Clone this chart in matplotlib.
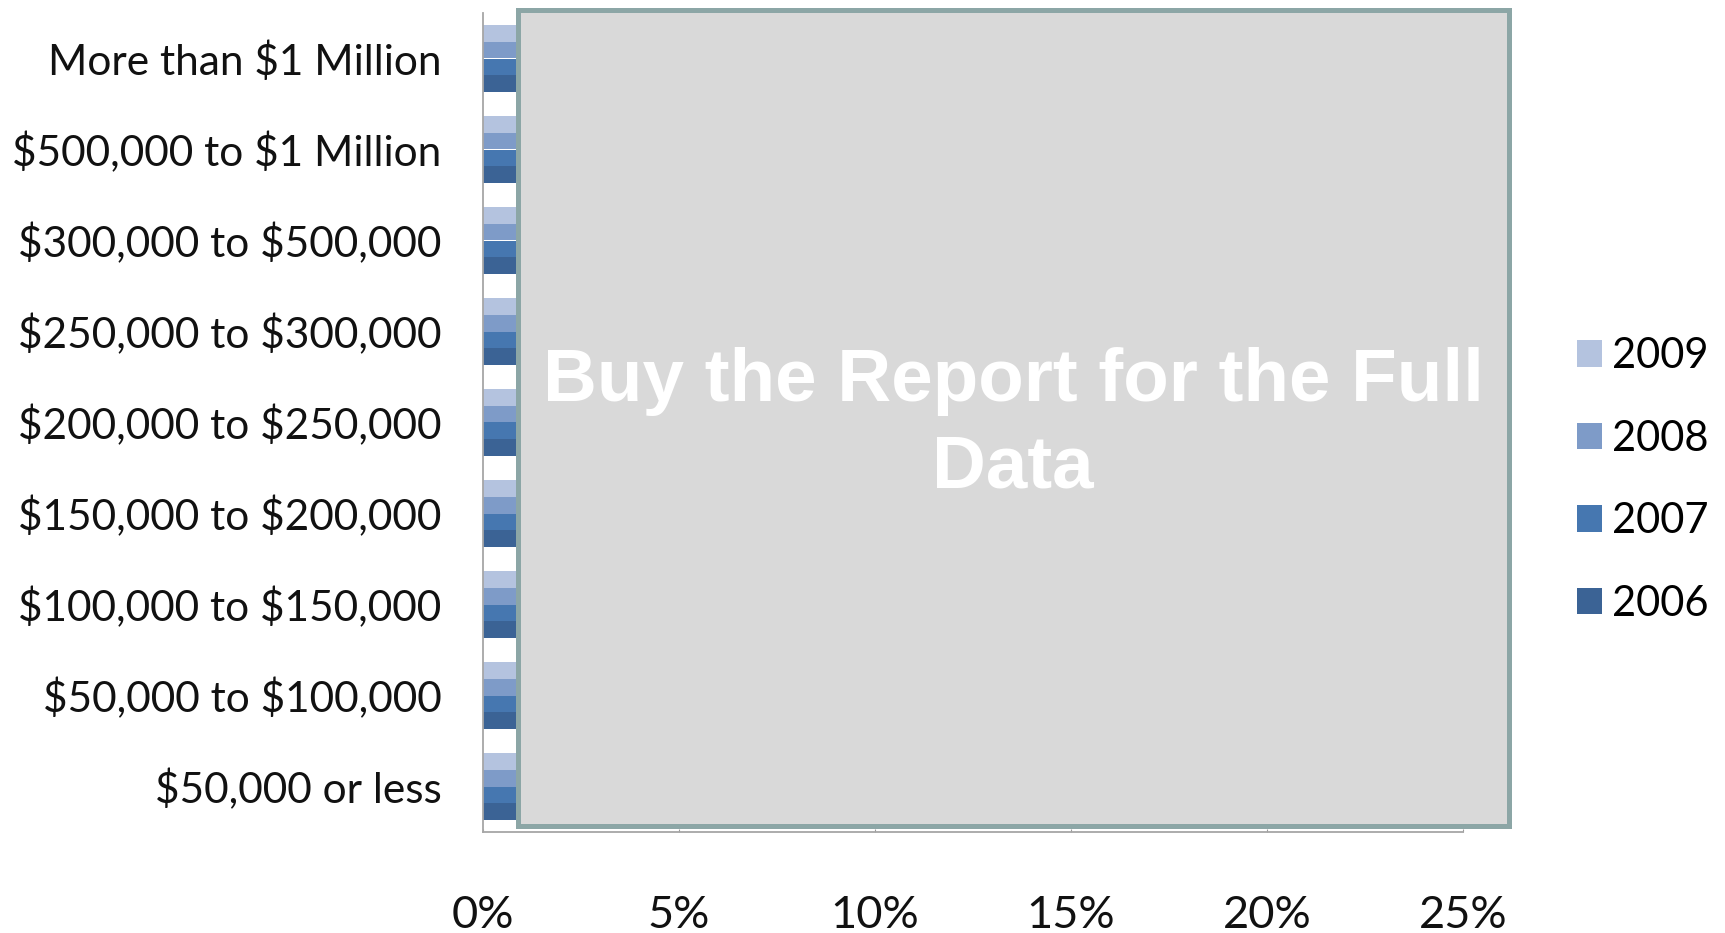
import matplotlib
matplotlib.use("Agg")
import matplotlib.pyplot as plt
from matplotlib.patches import Rectangle, Patch
import numpy as np

plt.rcParams['font.family'] = ['Lato', 'DejaVu Sans']

categories = ["More than $1 Million", "$500,000 to $1 Million", "$300,000 to $500,000",
              "$250,000 to $300,000", "$200,000 to $250,000", "$150,000 to $200,000",
              "$100,000 to $150,000", "$50,000 to $100,000", "$50,000 or less"]
years = ["2009", "2008", "2007", "2006"]
# values hidden under the overlay; only the first ~1% is visible
values = {
    "2009": [3.0, 4.5, 9.0, 6.0, 9.5, 12.0, 16.0, 14.0, 12.5],
    "2008": [3.2, 4.8, 9.5, 6.3, 10.0, 12.5, 16.5, 14.5, 13.0],
    "2007": [3.5, 5.0, 10.0, 6.5, 10.5, 13.0, 17.0, 15.0, 13.5],
    "2006": [3.8, 5.3, 10.5, 7.0, 11.0, 13.5, 17.5, 15.5, 14.0],
}
colors = {"2009": "#B4C3DF", "2008": "#7E9BC8", "2007": "#4677B0", "2006": "#3B6395"}
xticks = [0, 5, 10, 15, 20, 25]

W, H = 1725, 933
fig = plt.figure(figsize=(W / 100, H / 100), dpi=100)
ax = fig.add_axes([483 / W, 1 - 832 / H, (1463 - 483) / W, (832 - 13) / H])

h = 0.184
y = np.arange(len(categories))
offsets = [-1.5 * h, -0.5 * h, 0.5 * h, 1.5 * h]
for yr, off in zip(years, offsets):
    ax.barh(y + off, values[yr], height=h, color=colors[yr], edgecolor='none', zorder=2)

ax.set_ylim(len(categories) - 0.5, -0.5)
ax.set_xlim(0, 25)
ax.set_yticks(y)
ax.set_yticklabels([c.replace('$', r'\$') for c in categories], fontsize=30.5, color='#111111')
ax.set_xticks(xticks)
ax.set_xticklabels([f"{v}%" for v in xticks], fontsize=32.5, color='#111111')
ax.tick_params(axis='y', length=0, pad=30)
ax.tick_params(axis='x', direction='in', length=2.5, color='#999999', pad=45)
for s in ['top', 'right']:
    ax.spines[s].set_visible(False)
for s in ['left', 'bottom']:
    ax.spines[s].set_color('#A6A6A6')
    ax.spines[s].set_linewidth(1.3)

handles = [Patch(facecolor=colors[yr], edgecolor='none') for yr in years]
fig.legend(handles, years, loc='center left', bbox_to_anchor=(1577 / W, 1 - 480 / H),
           frameon=False, fontsize=30, handlelength=0.6, handleheight=0.6,
           handletextpad=0.25, labelspacing=1.07, borderpad=0, borderaxespad=0)

# overlay
x0, x1, y0, y1 = 517.5, 1509, 10, 825.5
rect = Rectangle((x0 / W, 1 - y1 / H), (x1 - x0) / W, (y1 - y0) / H, transform=fig.transFigure,
                 facecolor='#D9D9D9', edgecolor='#8CA6A6', linewidth=3.6, zorder=10)
fig.add_artist(rect)
fig.text((x0 + x1) / 2 / W, 1 - 425 / H, "Buy the Report for the Full\nData",
         ha='center', va='center', color='white', fontsize=53.7, fontweight='bold',
         family=['Liberation Sans', 'DejaVu Sans'], linespacing=1.32, zorder=11)

fig.savefig("out.png", dpi=100)
